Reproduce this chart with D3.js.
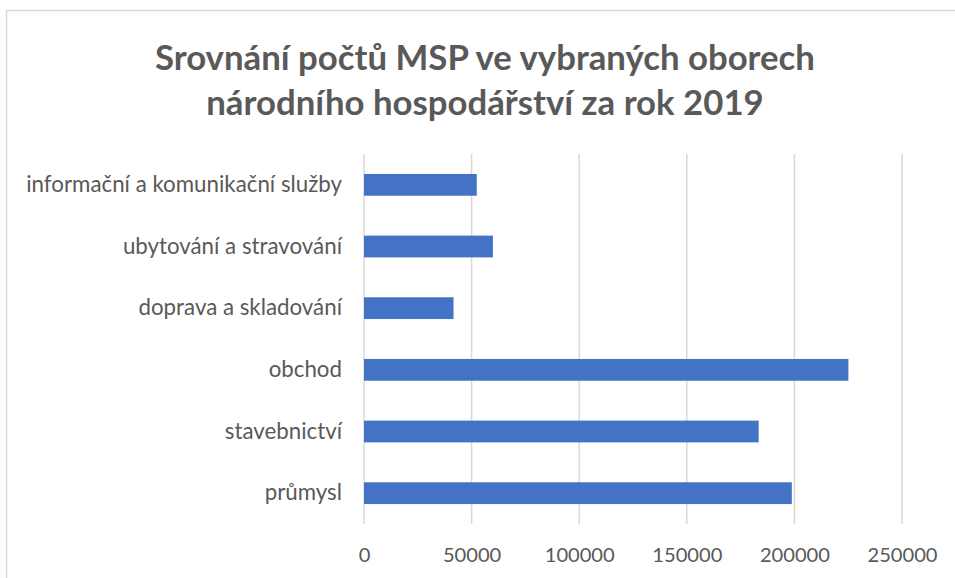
<!DOCTYPE html>
<html>
<head>
<meta charset="utf-8">
<script src="https://cdn.jsdelivr.net/npm/d3@7"></script>
<style>
  body { margin: 0; background: #fff; }
  svg { display: block; }
</style>
</head>
<body>
<div id="chart"></div>
<script>
// data
const categories = ["informační a komunikační služby", "ubytování a stravování", "doprava a skladování",
                    "obchod", "stavebnictví", "průmysl"];
const counts = [52400, 59900, 41600, 225100, 183400, 198800];
const tickValues = [0, 50000, 100000, 150000, 200000, 250000];
const titleLines = ["Srovnání počtů MSP ve vybraných oborech", "národního hospodářství za rok 2019"];

const width = 955, height = 578;
const margin = {top: 154, right: 53, bottom: 54, left: 364};
const font = "Lato, 'Open Sans', sans-serif";
const textColor = "#595959";

const svg = d3.select("#chart").append("svg")
    .attr("width", width)
    .attr("height", height);

// chart frame (right and bottom run off the picture)
svg.append("rect")
    .attr("x", 6.5).attr("y", 10.5)
    .attr("width", 1000).attr("height", 1000)
    .attr("fill", "none")
    .attr("stroke", "#d9d9d9")
    .attr("stroke-width", 1.5);

const x = d3.scaleLinear()
    .domain([0, 250000])
    .range([margin.left, width - margin.right]);

const y = d3.scaleBand()
    .domain(categories)
    .range([margin.top, height - margin.bottom])
    .paddingInner(0.647)
    .paddingOuter(0.3235);

// font size so that one text spans the wanted width
function fitSize(node, target) {
  const fs = parseFloat(d3.select(node).attr("font-size"));
  return fs * target / node.getComputedTextLength();
}

// gridlines
svg.append("g")
  .selectAll("line")
  .data(tickValues)
  .join("line")
    .attr("x1", d => x(d)).attr("x2", d => x(d))
    .attr("y1", margin.top).attr("y2", height - margin.bottom)
    .attr("stroke", "#d9d9d9")
    .attr("stroke-width", 1.5);

// bars
svg.append("g")
  .selectAll("rect")
  .data(counts)
  .join("rect")
    .attr("x", x(0))
    .attr("y", (d, i) => y(categories[i]))
    .attr("width", d => x(d) - x(0))
    .attr("height", y.bandwidth())
    .attr("fill", "#4472c4");

// x axis
const xAxis = svg.append("g")
    .attr("transform", `translate(0,${height - margin.bottom})`)
    .call(d3.axisBottom(x).tickValues(tickValues).tickSize(0).tickPadding(24).tickFormat(d3.format("d")))
    .call(g => g.select(".domain").remove());
xAxis.selectAll("text")
    .attr("font-family", font)
    .attr("font-size", 19)
    .attr("fill", textColor);
{
  const last = xAxis.selectAll("text").filter(d => d === 250000).node();
  xAxis.selectAll("text").attr("font-size", fitSize(last, 70));
}

// y axis
const yAxis = svg.append("g")
    .attr("transform", `translate(${margin.left},0)`)
    .call(d3.axisLeft(y).tickSize(0).tickPadding(22))
    .call(g => g.select(".domain").remove());
yAxis.selectAll("text")
    .attr("font-family", font)
    .attr("font-size", 19)
    .attr("fill", textColor);
{
  const longest = yAxis.selectAll("text").filter(d => d === categories[0]).node();
  yAxis.selectAll("text").attr("font-size", fitSize(longest, 316));
}

// title
const title = svg.append("text")
    .attr("text-anchor", "middle")
    .attr("font-family", font)
    .attr("font-weight", "bold")
    .attr("font-size", 33)
    .attr("fill", textColor);
title.selectAll("tspan")
  .data(titleLines)
  .join("tspan")
    .attr("x", 485)
    .attr("y", (d, i) => 70 + i * 45)
    .text(d => d);
{
  const first = title.select("tspan").node();
  title.attr("font-size", 33 * 660 / first.getComputedTextLength());
}
</script>
</body>
</html>
